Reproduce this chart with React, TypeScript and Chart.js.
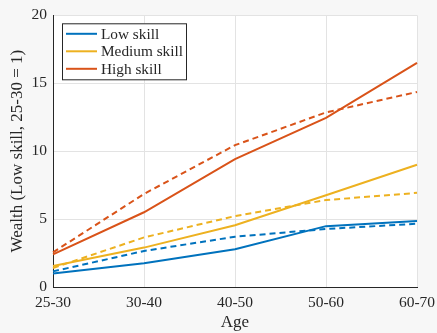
import React, { useEffect, useRef } from "react";
import { Chart, registerables } from "chart.js";

Chart.register(...registerables);

const categories = ["25-30", "30-40", "40-50", "50-60", "60-70"];
const lowSolid = [1.0, 1.75, 2.78, 4.48, 4.86];
const lowDashed = [1.15, 2.65, 3.7, 4.27, 4.66];
const medSolid = [1.55, 2.9, 4.55, 6.75, 9.0];
const medDashed = [1.4, 3.65, 5.22, 6.4, 6.93];
const highSolid = [2.4, 5.5, 9.42, 12.45, 16.5];
const highDashed = [2.55, 6.85, 10.44, 12.85, 14.36];
const yTicks = [0, 5, 10, 15, 20];
const legendLabels = ["Low skill", "Medium skill", "High skill"];

const BLUE = "#0072BD";
const YELLOW = "#EDB120";
const ORANGE = "#D95319";
const FONT = "'Liberation Serif', 'DejaVu Serif', serif";

const bgPlugin = {
  id: "plotBg",
  beforeDraw(chart: any) {
    const ctx = chart.ctx;
    const ca = chart.chartArea;
    ctx.save();
    ctx.fillStyle = "#ffffff";
    ctx.fillRect(ca.left, ca.top, ca.right - ca.left, ca.bottom - ca.top);
    ctx.restore();
  },
};

const legendPlugin = {
  id: "boxLegend",
  afterDraw(chart: any) {
    const ctx = chart.ctx;
    const ca = chart.chartArea;
    const x0 = ca.left + 9;
    const y0 = ca.top + 8;
    const w = 124;
    const h = 56;
    ctx.save();
    ctx.fillStyle = "#ffffff";
    ctx.fillRect(x0, y0, w, h);
    ctx.strokeStyle = "#262626";
    ctx.lineWidth = 1;
    ctx.strokeRect(x0 + 0.5, y0 + 0.5, w, h);
    const colors = [BLUE, YELLOW, ORANGE];
    ctx.font = "15.3px " + FONT;
    ctx.textBaseline = "middle";
    for (let i = 0; i < legendLabels.length; i++) {
      const yy = y0 + 10.5 + i * 17.5;
      ctx.strokeStyle = colors[i];
      ctx.lineWidth = 2;
      ctx.beginPath();
      ctx.moveTo(x0 + 4, yy);
      ctx.lineTo(x0 + 35, yy);
      ctx.stroke();
      ctx.fillStyle = "#262626";
      ctx.fillText(legendLabels[i], x0 + 39, yy + 1);
    }
    ctx.restore();
  },
};

export default function App() {
  const ref = useRef<HTMLCanvasElement>(null);
  useEffect(() => {
    document.body.style.margin = "0";
    const ds = (label: string, data: number[], color: string, dashed: boolean) => ({
      label,
      data,
      borderColor: color,
      backgroundColor: color,
      borderWidth: 2,
      borderDash: dashed ? [6, 4] : [],
      pointRadius: 0,
      tension: 0,
      fill: false,
    });
    const chart = new Chart(ref.current!, {
      type: "line",
      data: {
        labels: categories,
        datasets: [
          ds("Low skill", lowSolid, BLUE, false),
          ds("Medium skill", medSolid, YELLOW, false),
          ds("High skill", highSolid, ORANGE, false),
          ds("Low skill (alt)", lowDashed, BLUE, true),
          ds("Medium skill (alt)", medDashed, YELLOW, true),
          ds("High skill (alt)", highDashed, ORANGE, true),
        ],
      },
      options: {
        responsive: false,
        animation: false,
        layout: { padding: { left: 7, top: 15, right: 0, bottom: 0 } },
        plugins: {
          legend: { display: false },
          tooltip: { enabled: false },
        },
        scales: {
          x: {
            type: "category",
            offset: false,
            grid: { color: "#e3e3e3", drawTicks: false },
            border: { color: "#262626", width: 1 },
            ticks: {
              color: "#262626",
              font: { family: FONT, size: 15.5 },
              padding: 7,
              maxRotation: 0,
              autoSkip: false,
            },
            title: {
              display: true,
              text: "Age",
              color: "#262626",
              font: { family: FONT, size: 17 },
              padding: { top: 0, bottom: 0 },
            },
            afterFit(scale: any) {
              scale.height = 46;
              scale.paddingRight = 20;
            },
          },
          y: {
            min: 0,
            max: 20,
            afterBuildTicks(scale: any) {
              scale.ticks = yTicks.map((v) => ({ value: v }));
            },
            grid: { color: "#e3e3e3", drawTicks: false },
            border: { color: "#262626", width: 1 },
            ticks: {
              color: "#262626",
              font: { family: FONT, size: 15.5 },
              padding: 6,
            },
            title: {
              display: true,
              text: "Wealth (Low skill, 25-30 = 1)",
              color: "#262626",
              font: { family: FONT, size: 17 },
              padding: { top: 0, bottom: 0 },
            },
            afterFit(scale: any) {
              scale.width = 46;
            },
          },
        },
      },
      plugins: [bgPlugin, legendPlugin],
    } as any);
    return () => chart.destroy();
  }, []);
  return (
    <div style={{ position: "fixed", left: 0, top: 0, width: 437, height: 333, background: "#f7f7f7" }}>
      <canvas ref={ref} width={437} height={333} style={{ display: "block" }} />
    </div>
  );
}
